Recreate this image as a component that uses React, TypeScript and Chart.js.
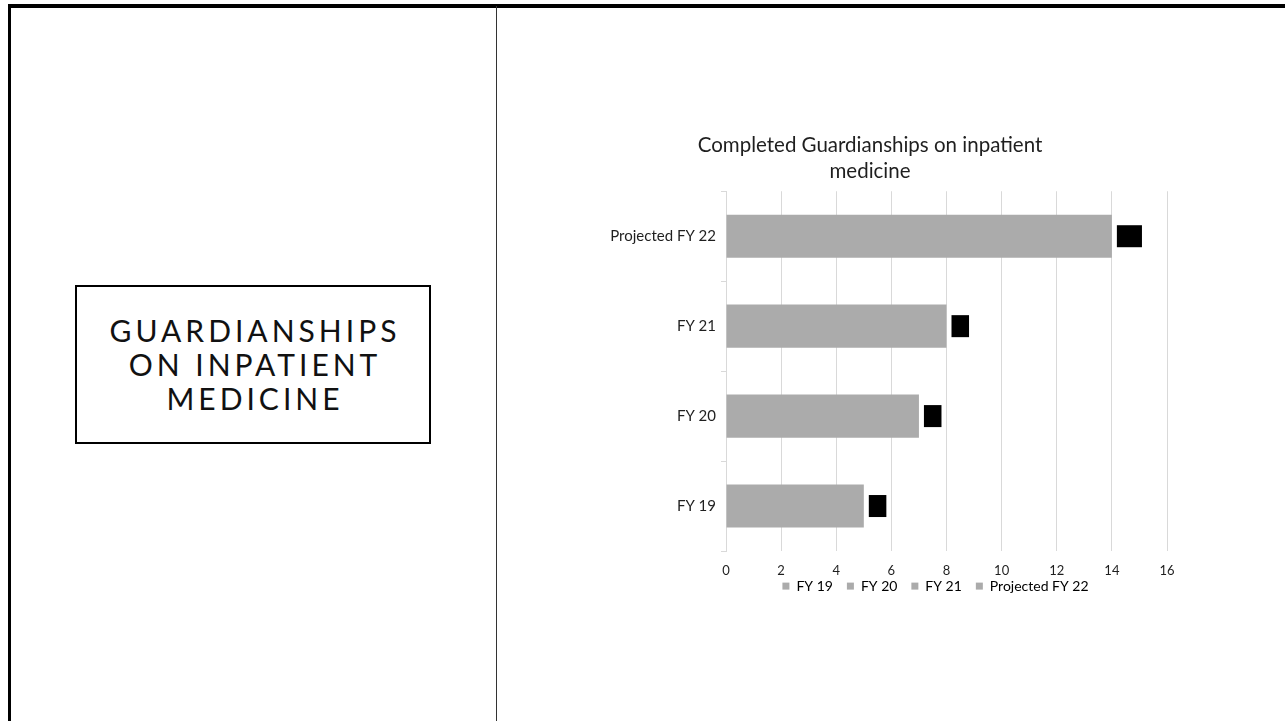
import React, { useEffect, useRef } from "react";
import { Chart, registerables } from "chart.js";

Chart.register(...registerables);

// ---- data ----
const categories = ["FY 19", "FY 20", "FY 21", "Projected FY 22"];
const completed = [5, 7, 8, 14];
const xTicks = [0, 2, 4, 6, 8, 10, 12, 14, 16];
const chartTitle = ["Completed Guardianships on inpatient", "medicine"];
const slideHeading = ["GUARDIANSHIPS", "ON INPATIENT", "MEDICINE"];

const FONT = "Lato, 'Open Sans', 'DejaVu Sans', sans-serif";
const BAR_GREY = "#ABABAB";
const GRID = "#D9D9D9";
const TEXT = "#1f1f1f";

// data labels drawn as black boxes (black text on black fill, as in the reference)
const labelBoxes = {
  id: "labelBoxes",
  afterDatasetsDraw(chart: any) {
    const ctx = chart.ctx;
    const meta = chart.getDatasetMeta(0);
    const values = chart.data.datasets[0].data;
    ctx.save();
    ctx.font = `13px ${FONT}`;
    meta.data.forEach((bar: any, i: number) => {
      const text = String(values[i]);
      const w = ctx.measureText(text).width + 10;
      const h = 22;
      const x = bar.x + 5;
      const y = bar.y - h / 2;
      ctx.fillStyle = "#000";
      ctx.fillRect(x, y, w, h);
      ctx.textAlign = "center";
      ctx.textBaseline = "middle";
      ctx.fillText(text, x + w / 2, bar.y);
    });
    ctx.restore();
  },
};

// nudges the legend to sit just under the tick labels, centred like the reference
const legendNudge = {
  id: "legendNudge",
  afterLayout(chart: any) {
    const l = chart.legend;
    if (!l) return;
    const dy = -25.5;
    const dx = -11;
    l.top += dy;
    l.bottom += dy;
    l.left += dx;
    l.right += dx;
  },
};

function GuardianshipChart() {
  const ref = useRef<HTMLCanvasElement | null>(null);
  useEffect(() => {
    if (!ref.current) return;
    const chart = new Chart(ref.current, {
      type: "bar",
      data: {
        labels: categories,
        datasets: [
          {
            label: "Completed",
            data: completed,
            backgroundColor: BAR_GREY,
            barPercentage: 0.48,
            categoryPercentage: 1,
          },
        ],
      },
      options: {
        indexAxis: "y",
        responsive: false,
        animation: false,
        layout: { padding: { left: 13, right: 33, top: 0, bottom: 6.4 } },
        scales: {
          x: {
            min: 0,
            max: 16,
            afterBuildTicks: (s: any) => {
              s.ticks = xTicks.map((v) => ({ value: v }));
            },
            ticks: { color: TEXT, font: { size: 13, family: FONT }, padding: 12 },
            grid: { color: GRID, drawTicks: false },
            border: { display: false },
          },
          y: {
            reverse: true,
            afterFit: (s: any) => {
              s.width = 153;
            },
            ticks: { color: TEXT, font: { size: 15, family: FONT }, padding: 5 },
            grid: { drawOnChartArea: false, tickLength: 5, color: GRID, offset: true },
            border: { color: GRID },
          },
        },
        plugins: {
          title: {
            display: true,
            text: chartTitle,
            color: TEXT,
            font: { size: 20.5, weight: "normal", family: FONT, lineHeight: 1.25 },
            padding: { top: 13, bottom: 7 },
          },
          legend: {
            position: "bottom",
            fullSize: false,
            onClick: () => {},
            labels: {
              boxWidth: 7,
              boxHeight: 7,
              padding: 14,
              color: TEXT,
              font: { size: 14, family: FONT },
              generateLabels: () =>
                categories.map((c, i) => ({
                  text: c,
                  fillStyle: BAR_GREY,
                  strokeStyle: BAR_GREY,
                  lineWidth: 0,
                  hidden: false,
                  index: i,
                  datasetIndex: 0,
                })),
            },
          },
          tooltip: { enabled: false },
        },
      },
      plugins: [labelBoxes, legendNudge],
    } as any);
    return () => chart.destroy();
  }, []);
  return <canvas ref={ref} width={640} height={515} style={{ display: "block" }} />;
}

export default function App() {
  return (
    <div style={{ fontFamily: FONT }}>
      {/* slide frame */}
      <div style={{ position: "absolute", left: 8, top: 4, width: 1277, height: 4, background: "#000" }} />
      <div style={{ position: "absolute", left: 8, top: 4, width: 3, height: 717, background: "#000" }} />
      <div style={{ position: "absolute", left: 496, top: 6, width: 1, height: 715, background: "#333" }} />

      {/* heading box */}
      <div
        style={{
          position: "absolute",
          left: 75,
          top: 285,
          width: 356,
          height: 159,
          border: "2px solid #000",
          boxSizing: "border-box",
          display: "flex",
          flexDirection: "column",
          alignItems: "center",
          justifyContent: "center",
          color: "#111",
          fontSize: 30,
          lineHeight: "34px",
          letterSpacing: 4,
          textIndent: 4,
          paddingBottom: 2,
        }}
      >
        {slideHeading.map((t) => (
          <div key={t}>{t}</div>
        ))}
      </div>

      {/* chart */}
      <div style={{ position: "absolute", left: 560, top: 120, width: 640, height: 515 }}>
        <GuardianshipChart />
      </div>
    </div>
  );
}
